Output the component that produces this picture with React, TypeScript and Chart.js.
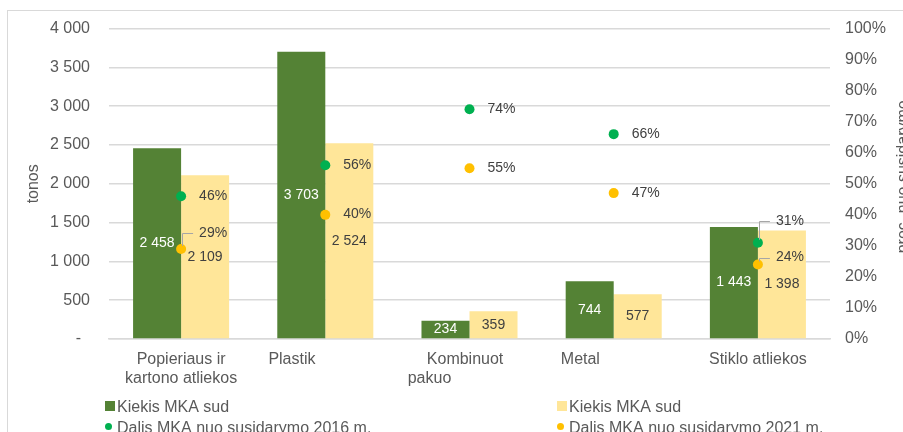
import React, { useEffect, useRef } from "react";
import { Chart, registerables } from "chart.js";

Chart.register(...registerables);

// ---------- data ----------
const categories: string[][] = [
  ["Popieriaus ir", "kartono atliekos"],
  ["Plastik"],
  ["Kombinuot", "pakuo"],
  ["Metal"],
  ["Stiklo atliekos"],
];
const kiekis2016: number[] = [2458, 3703, 234, 744, 1443];
const kiekis2021: number[] = [2109, 2524, 359, 577, 1398];
const dalis2016: number[] = [46, 56, 74, 66, 31];
const dalis2021: number[] = [29, 40, 55, 47, 24];
const leftTicksMax = 4000;
const leftTicksStep = 500;
const rightTicksMax = 100;
const rightTicksStep = 10;

const seriesNames = {
  bar2016: "Kiekis MKA sud",
  bar2021: "Kiekis MKA sud",
  dot2016: "Dalis MKA nuo susidarymo 2016 m.",
  dot2021: "Dalis MKA nuo susidarymo 2021 m.",
};
const leftTitle = "tonos";
const rightTitle = "proc. nuo susidarymo";

// ---------- styles ----------
const FONT = "'Liberation Sans', Arial, sans-serif";
const GREEN_BAR = "#548235";
const YELLOW_BAR = "#FFE699";
const GREEN_DOT = "#00B050";
const YELLOW_DOT = "#FFC000";
const TEXT = "#595959";
const LABEL = "#404040";
const GRID = "#D9D9D9";

// trailing spaces per category label line (visual offset like the original)
const labelPad: number[][] = [[0, 0], [15], [2, 18], [15], [0]];
// vertical offsets (px) of the percentage labels
const dot2016Dy = [0, 0, 0, 0, -22];
const dot2021Dy = [-16, -1, 0, 0, -7];

const fmt = (v: number) => {
  const s = Math.round(v).toString();
  return s.replace(/\B(?=(\d{3})+(?!\d))/g, " ");
};

const labelsPlugin = {
  id: "valueLabels",
  afterDatasetsDraw(chart: any) {
    const ctx = chart.ctx as CanvasRenderingContext2D;
    ctx.save();
    ctx.font = `14px ${FONT}`;
    ctx.textBaseline = "middle";
    chart.data.datasets.forEach((ds: any, di: number) => {
      const meta = chart.getDatasetMeta(di);
      meta.data.forEach((el: any, i: number) => {
        const v = ds.data[i] as number;
        if (meta.type === "bar") {
          ctx.fillStyle = di === 0 ? "#FFFFFF" : LABEL;
          ctx.textAlign = "center";
          ctx.fillText(fmt(v), el.x, (el.y + el.base) / 2);
        } else {
          const dys = di === 2 ? dot2016Dy : dot2021Dy;
          const dy = dys[i];
          const lx = el.x + 18;
          const ly = el.y + dy;
          if (dy < -4) {
            ctx.strokeStyle = "#A6A6A6";
            ctx.lineWidth = 1;
            ctx.beginPath();
            ctx.moveTo(Math.round(el.x) + 1.5, el.y - 3);
            ctx.lineTo(Math.round(el.x) + 1.5, Math.round(ly) + 0.5);
            ctx.lineTo(lx - 6, Math.round(ly) + 0.5);
            ctx.stroke();
          }
          ctx.fillStyle = LABEL;
          ctx.textAlign = "left";
          ctx.fillText(`${v}%`, lx, ly);
        }
      });
    });
    ctx.restore();
  },
};

const decorPlugin = {
  id: "decor",
  beforeDraw(chart: any) {
    const ctx = chart.ctx as CanvasRenderingContext2D;
    ctx.save();
    ctx.fillStyle = "#FFFFFF";
    ctx.fillRect(0, 0, chart.width, chart.height);
    ctx.strokeStyle = GRID;
    ctx.lineWidth = 1;
    ctx.strokeRect(7.5, 10.5, 1000, 1000);
    ctx.restore();
  },
  afterDraw(chart: any) {
    const ctx = chart.ctx as CanvasRenderingContext2D;
    const area = chart.chartArea;
    const midY = (area.top + area.bottom) / 2;
    ctx.save();
    ctx.font = `16px ${FONT}`;
    ctx.fillStyle = TEXT;
    ctx.textAlign = "center";
    ctx.textBaseline = "alphabetic";
    // axis titles
    ctx.save();
    ctx.translate(38, midY);
    ctx.rotate(-Math.PI / 2);
    ctx.fillText(leftTitle, 0, 0);
    ctx.restore();
    ctx.save();
    ctx.translate(908, midY - 7);
    ctx.rotate(-Math.PI / 2);
    ctx.fillText(rightTitle, 0, 0);
    ctx.restore();
    // legend (2 x 2)
    ctx.textAlign = "left";
    const col1 = 105;
    const col2 = 557;
    const row1 = 411.5;
    const row2 = 432.5;
    ctx.fillStyle = GREEN_BAR;
    ctx.fillRect(col1, 401, 10, 10);
    ctx.fillStyle = YELLOW_BAR;
    ctx.fillRect(col2, 401, 10, 10);
    ctx.fillStyle = GREEN_DOT;
    ctx.beginPath();
    ctx.arc(col1 + 3.5, 426.5, 3.5, 0, Math.PI * 2);
    ctx.fill();
    ctx.fillStyle = YELLOW_DOT;
    ctx.beginPath();
    ctx.arc(col2 + 3.5, 426.5, 3.5, 0, Math.PI * 2);
    ctx.fill();
    ctx.fillStyle = TEXT;
    ctx.fillText(seriesNames.bar2016, col1 + 12, row1);
    ctx.fillText(seriesNames.bar2021, col2 + 12, row1);
    ctx.fillText(seriesNames.dot2016, col1 + 12, row2);
    ctx.fillText(seriesNames.dot2021, col2 + 12, row2);
    ctx.restore();
  },
};

export default function App() {
  const ref = useRef<HTMLCanvasElement | null>(null);

  useEffect(() => {
    if (!ref.current) return;
    const chart = new Chart(ref.current, {
      type: "bar",
      data: {
        labels: categories.map((c) => c.join(" ")),
        datasets: [
          {
            type: "bar",
            label: seriesNames.bar2016,
            data: kiekis2016,
            backgroundColor: GREEN_BAR,
            yAxisID: "y",
            order: 1,
          },
          {
            type: "bar",
            label: seriesNames.bar2021,
            data: kiekis2021,
            backgroundColor: YELLOW_BAR,
            yAxisID: "y",
            order: 1,
          },
          {
            type: "line",
            label: seriesNames.dot2016,
            data: dalis2016,
            showLine: false,
            pointRadius: 5,
            pointBorderWidth: 0,
            pointBackgroundColor: GREEN_DOT,
            borderColor: GREEN_DOT,
            yAxisID: "y2",
            order: 0,
          },
          {
            type: "line",
            label: seriesNames.dot2021,
            data: dalis2021,
            showLine: false,
            pointRadius: 5,
            pointBorderWidth: 0,
            pointBackgroundColor: YELLOW_DOT,
            borderColor: YELLOW_DOT,
            yAxisID: "y2",
            order: 0,
          },
        ] as any,
      },
      options: {
        animation: false,
        responsive: false,
        maintainAspectRatio: false,
        datasets: {
          bar: { categoryPercentage: 0.666, barPercentage: 1 },
        } as any,
        layout: { padding: { top: 27, left: 0, right: 0, bottom: 0 } },
        plugins: {
          legend: { display: false },
          tooltip: { enabled: false },
        },
        scales: {
          x: {
            offset: true,
            grid: { display: false, drawTicks: false },
            border: { display: true, color: GRID, width: 1.5 },
            ticks: {
              color: TEXT,
              font: { family: FONT, size: 16 },
              padding: 11,
              maxRotation: 0,
              minRotation: 0,
              autoSkip: false,
              callback: (_v: any, i: number) =>
                categories[i].map((l, j) => l + " ".repeat(labelPad[i][j] || 0)),
            },
            afterFit: (s: any) => {
              s.height = 93;
            },
          },
          y: {
            position: "left",
            min: 0,
            max: leftTicksMax,
            grid: { color: GRID, lineWidth: 1.5, drawTicks: false },
            border: { display: false },
            ticks: {
              stepSize: leftTicksStep,
              color: TEXT,
              font: { family: FONT, size: 16 },
              padding: 19,
              callback: (v: any) => (Number(v) === 0 ? "-  " : fmt(Number(v))),
            },
            afterFit: (s: any) => {
              s.width = 109;
            },
          },
          y2: {
            position: "right",
            min: 0,
            max: rightTicksMax,
            grid: { display: false, drawTicks: false },
            border: { display: false },
            ticks: {
              stepSize: rightTicksStep,
              color: TEXT,
              font: { family: FONT, size: 16 },
              padding: 15,
              callback: (v: any) => `${v}%`,
            },
            afterFit: (s: any) => {
              s.width = 73;
            },
          },
        },
      } as any,
      plugins: [decorPlugin, labelsPlugin],
    });
    return () => chart.destroy();
  }, []);

  return (
    <div style={{ position: "fixed", left: 0, top: 0, width: 903, height: 432, overflow: "hidden" }}>
      <canvas ref={ref} width={903} height={432} style={{ display: "block", width: 903, height: 432 }} />
    </div>
  );
}
